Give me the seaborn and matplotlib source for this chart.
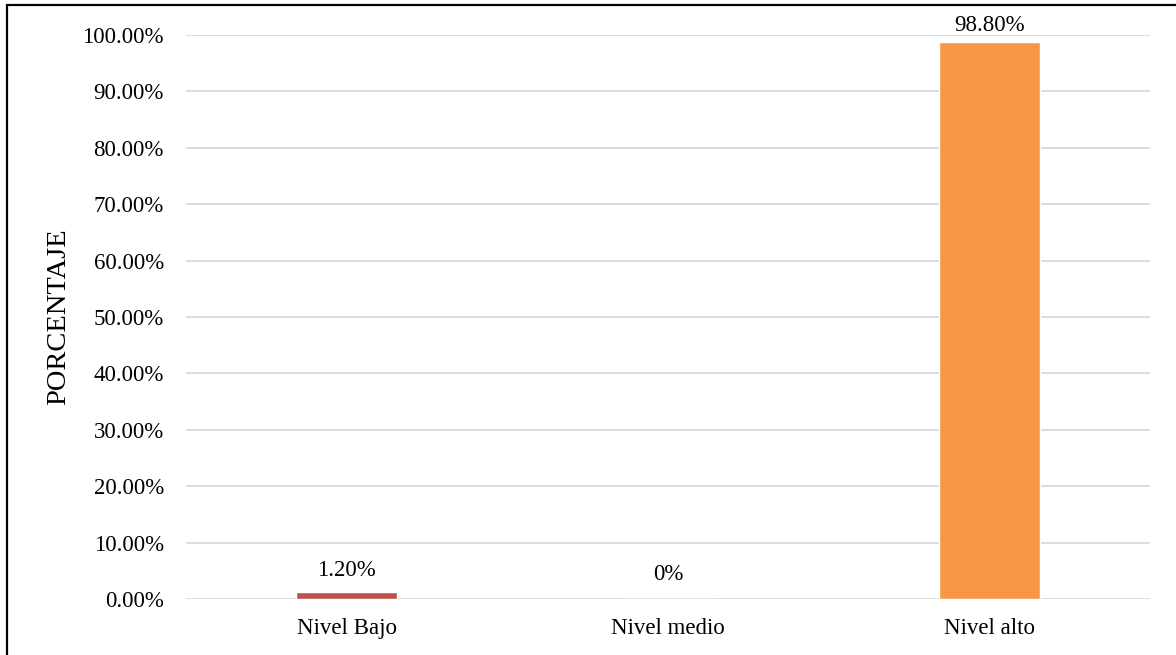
import matplotlib

matplotlib.use("Agg")

import matplotlib.pyplot as plt
import pandas as pd
import seaborn as sns
from matplotlib.patches import Rectangle
from matplotlib.ticker import FuncFormatter, MultipleLocator

# data
categories = ["Nivel Bajo", "Nivel medio", "Nivel alto"]
porcentajes = [1.20, 0.0, 98.80]
bar_labels = ["1.20%", "0%", "98.80%"]
colors = ["#C0504D", "#4F81BD", "#F79646"]

df = pd.DataFrame({"nivel": categories, "pct": porcentajes})

sns.set_theme(style="white")
plt.rcParams["font.family"] = ["Liberation Serif", "DejaVu Serif"]

fig = plt.figure(figsize=(11.76, 6.55), dpi=100)
ax = fig.add_axes([186 / 1176, 1 - 599 / 655, 964 / 1176, 564 / 655])

sns.barplot(data=df, x="nivel", y="pct", hue="nivel", palette=colors,
            width=0.315, legend=False, ax=ax, saturation=1)

ax.set_ylim(0, 100)
ax.yaxis.set_major_locator(MultipleLocator(10))
ax.yaxis.set_major_formatter(FuncFormatter(lambda v, _: f"{v:.2f}%"))
ax.grid(axis="y", color="#D9D9D9", lw=1.3)
ax.set_axisbelow(True)
for s in ax.spines.values():
    s.set_visible(False)

ax.tick_params(axis="y", length=0, pad=16, labelsize=16.5, colors="black")
ax.tick_params(axis="x", length=0, pad=14, labelsize=16.5, colors="black")
ax.set_xlabel("")
ax.set_ylabel("PORCENTAJE", fontsize=20.5, color="black")
ax.yaxis.set_label_coords(-0.1193, 0.5)

# Excel-style "outside end" labels, gaps tuned per bar
for cont, lab, pad in zip(ax.containers, bar_labels, [8, 10, 4]):
    ax.bar_label(cont, labels=[lab], padding=pad, fontsize=16.5, color="black")

# frame around the chart area, as in the cropped reference
fig.patches.append(Rectangle((7 / 1176, -0.1), 1.2, 1.1 - 5 / 655,
                             transform=fig.transFigure, fill=False,
                             edgecolor="black", lw=1.6))

fig.savefig("out.png", dpi=100)
